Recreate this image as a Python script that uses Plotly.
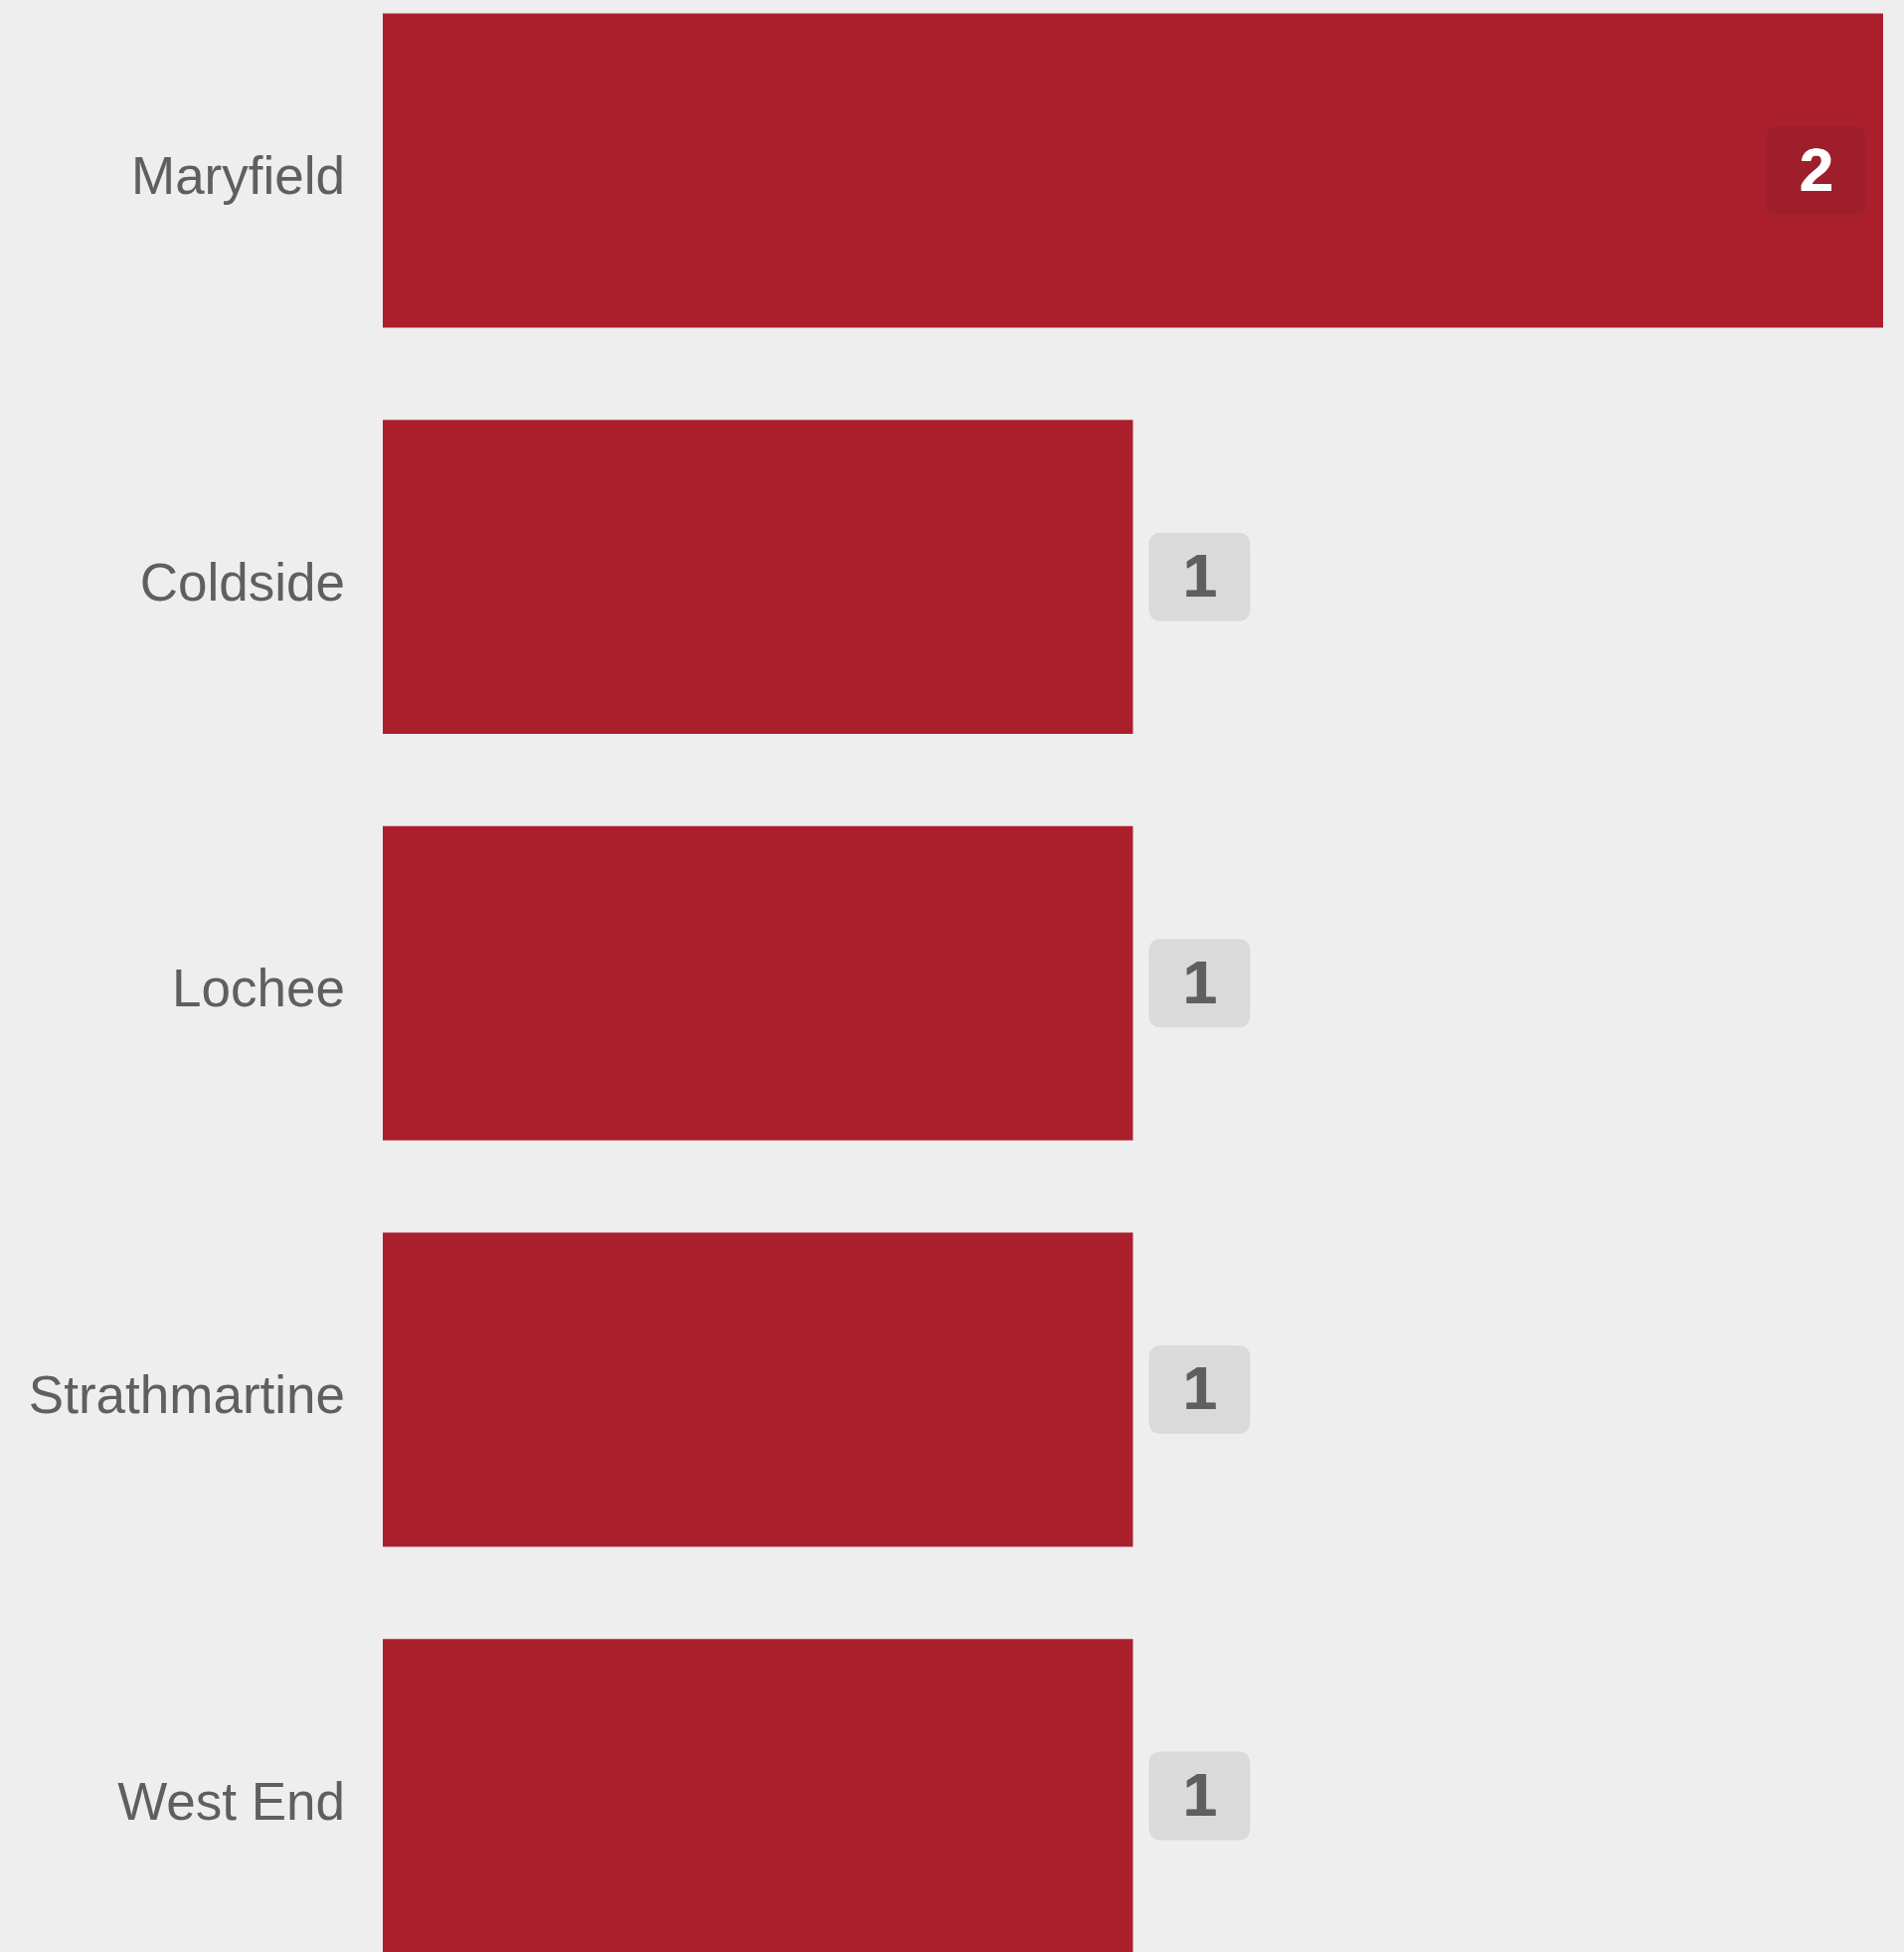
import plotly.graph_objects as go

categories = ["Maryfield", "Coldside", "Lochee", "Strathmartine", "West End"]
values = [2, 1, 1, 1, 1]

BAR = "#AB1F2D"
BG = "#EEEEEE"

fig = go.Figure(go.Bar(
    x=values, y=categories, orientation="h",
    marker=dict(color=BAR, line=dict(width=0)),
    width=0.773, hoverinfo="skip",
))


def rrect(x0, x1, y0, y1, r):
    return (f"M{x0+r},{y0} L{x1-r},{y0} Q{x1},{y0} {x1},{y0+r} "
            f"L{x1},{y1-r} Q{x1},{y1} {x1-r},{y1} L{x0+r},{y1} "
            f"Q{x0},{y1} {x0},{y1-r} L{x0},{y0+r} Q{x0},{y0} {x0+r},{y0} Z")


vmax = max(values)
shapes = []
annotations = []
for cat, v in zip(categories, values):
    inside = v == vmax
    if inside:
        bx0, bx1 = -118, -17
        fill, tcol = "#9E1F2B", "#FFFFFF"
    else:
        bx0, bx1 = 16, 118
        fill, tcol = "#DADADA", "#5F5F5F"
    shapes.append(dict(
        type="path", xref="x", yref="y", xsizemode="pixel", ysizemode="pixel",
        xanchor=v, yanchor=cat, path=rrect(bx0, bx1, -44.5, 44.5, 13),
        fillcolor=fill, line=dict(width=0), layer="above",
    ))
    annotations.append(dict(
        x=v, y=cat, xref="x", yref="y", text=f"<b>{v}</b>", showarrow=False,
        xanchor="center", yanchor="middle", xshift=(bx0 + bx1) / 2, yshift=1,
        font=dict(family="Liberation Sans, Arial, sans-serif", size=61, color=tcol,
                  shadow=f"0.6px 0 0 {tcol}, -0.6px 0 0 {tcol}"),
    ))

fig.update_layout(
    width=1915, height=1963,
    margin=dict(l=385, r=21, t=0, b=0, pad=0),
    paper_bgcolor=BG, plot_bgcolor=BG,
    showlegend=False,
    shapes=shapes, annotations=annotations,
    xaxis=dict(range=[0, 2], visible=False, fixedrange=True),
    yaxis=dict(
        type="category", categoryorder="array", categoryarray=categories,
        range=[4.384, -0.4197], showgrid=False, zeroline=False, showline=False,
        ticks="", ticklabelstandoff=37, ticklabelshift=-5, fixedrange=True,
        tickfont=dict(family="Liberation Sans, Arial, sans-serif", size=53, color="#5F5F5F"),
    ),
)

fig.write_html(
    "out.html",
    config={"displayModeBar": False},
    post_script="document.body.style.margin='0';document.body.style.overflow='hidden';"
                "document.body.style.background='#EEEEEE';",
)
